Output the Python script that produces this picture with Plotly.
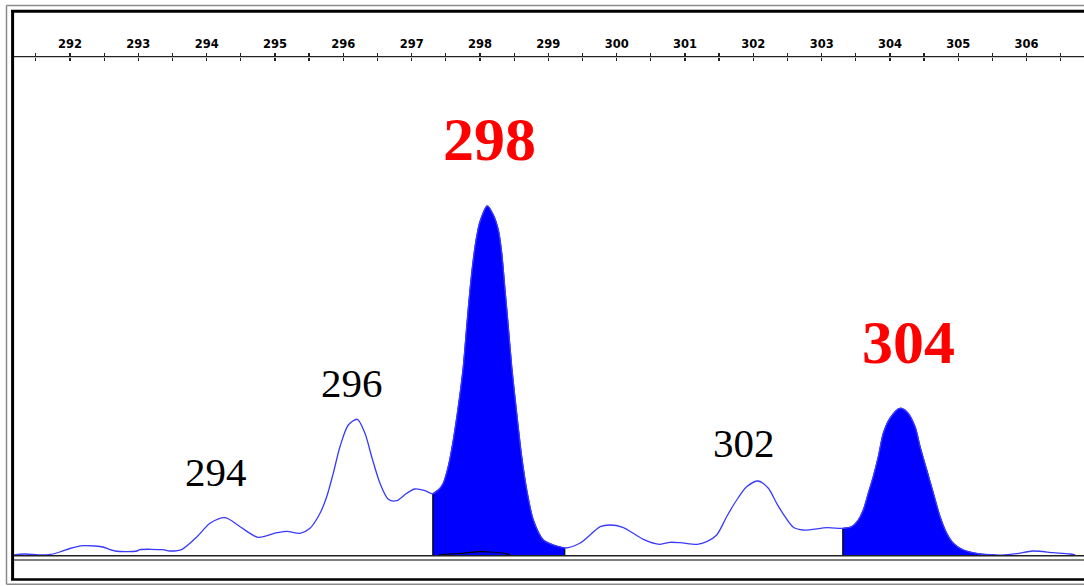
import plotly.graph_objects as go

# ---------------- data ----------------
size_bp = [291.18, 291.34, 291.56, 291.71, 291.85, 292.00, 292.19, 292.37, 292.48, 292.66,
           292.98, 293.02, 293.36, 293.46, 293.64, 293.86, 294.05, 294.27, 294.49, 294.75,
           295.03, 295.18, 295.366, 295.512, 295.659, 295.757, 295.853, 295.951, 296.073, 296.205,
           296.317, 296.415, 296.537, 296.658, 296.781, 296.928, 297.049, 297.195, 297.31, 297.415,
           297.463, 297.536, 297.610, 297.683, 297.756, 297.806, 297.854, 297.902, 297.952, 298.000,
           298.107, 298.195, 298.268, 298.318, 298.366, 298.414, 298.464, 298.537, 298.610, 298.684,
           298.780, 298.927, 299.073, 299.24, 299.46, 299.76, 299.90, 300.09, 300.39, 300.63,
           300.78, 300.93, 301.18, 301.318, 301.464, 301.61, 301.757, 301.903, 302.073, 302.22,
           302.342, 302.464, 302.586, 302.732, 303.08, 303.31, 303.44, 303.537, 303.61, 303.683,
           303.756, 303.83, 303.903, 304.0, 304.147, 304.245, 304.367, 304.44, 304.538, 304.635,
           304.733, 304.83, 304.927, 305.073, 305.317, 305.54, 305.68, 305.86, 306.09, 306.39,
           306.63, 306.71]
rfu = [0, 10, 0, 5, 30, 65, 93, 90, 80, 40,
       40, 53, 53, 40, 57, 183, 317, 373, 283, 177,
       223, 237, 217, 267, 417, 583, 817, 1083, 1300, 1357,
       1217, 983, 717, 557, 543, 617, 660, 643, 612, 667,
       717, 883, 1150, 1483, 1883, 2283, 2650, 2950, 3183, 3333,
       3490, 3400, 3250, 3017, 2650, 2283, 1883, 1417, 983, 650,
       350, 150, 100, 70, 117, 283, 300, 277, 157, 107,
       127, 123, 107, 133, 200, 383, 550, 683, 740, 667,
       517, 383, 277, 250, 273, 267, 283, 350, 450, 617,
       783, 983, 1217, 1367, 1467, 1433, 1283, 1083, 850, 617,
       383, 217, 117, 50, 10, 0, 0, 13, 40, 23,
       10, 0]

# second (black) dye trace close to the baseline
black_bp = [297.40, 297.56, 297.71, 297.85, 298.00, 298.15, 298.37, 298.44]
black_rfu = [0, 10, 15, 25, 33, 30, 15, 0]

# called alleles (filled peaks): bin start / end in bp
called_bins = [(297.31, 299.24), (303.31, 305.54)]

# peak labels
label_text = ["294", "296", "298", "302", "304"]
label_bp = [294.137, 296.127, 298.139, 301.871, 304.264]
label_rfu = [830, 1725, 4160, 1125, 2130]
label_called = [False, False, True, False, True]

tick_labels = ["292", "293", "294", "295", "296", "297", "298", "299",
               "300", "301", "302", "303", "304", "305", "306"]
tick_positions = [292, 293, 294, 295, 296, 297, 298, 299, 300, 301, 302, 303, 304, 305, 306]
minor_positions = [291.5 + i for i in range(16)]

# ---------------- figure ----------------
W, H = 1084, 586
BLUE_LINE = "#3a3aff"
BLUE_FILL = "#0000ff"
SMOOTH = 0.8

fig = go.Figure()

# filled called peaks
for (b0, b1) in called_bins:
    xs = [x for x in size_bp if b0 <= x <= b1]
    ys = [y for x, y in zip(size_bp, rfu) if b0 <= x <= b1]
    fig.add_trace(go.Scatter(x=xs, y=ys, mode="lines", fill="tozeroy",
                             fillcolor=BLUE_FILL,
                             line=dict(color=BLUE_FILL, width=1.2, shape="spline", smoothing=SMOOTH),
                             hoverinfo="skip", showlegend=False))
    # black edge lines of the bin
    for b in (b0, b1):
        yv = [y for x, y in zip(size_bp, rfu) if x == b][0]
        fig.add_trace(go.Scatter(x=[b, b], y=[0, yv], mode="lines",
                                 line=dict(color="black", width=1.2),
                                 hoverinfo="skip", showlegend=False))

# main blue trace
fig.add_trace(go.Scatter(x=size_bp, y=rfu, mode="lines",
                         line=dict(color=BLUE_LINE, width=1.3, shape="spline", smoothing=SMOOTH),
                         hoverinfo="skip", showlegend=False))

# black dye trace
fig.add_trace(go.Scatter(x=black_bp, y=black_rfu, mode="lines",
                         line=dict(color="black", width=1.2, shape="spline", smoothing=0.6),
                         hoverinfo="skip", showlegend=False))

# dummy trace for the second (tick-only) axis
fig.add_trace(go.Scatter(x=[tick_positions[0]], y=[0], xaxis="x2", mode="markers",
                         marker=dict(opacity=0), hoverinfo="skip", showlegend=False))

# peak labels
for t, xb, yv, called in zip(label_text, label_bp, label_rfu, label_called):
    fig.add_annotation(x=xb, y=yv, text=f"<b>{t}</b>" if called else t, showarrow=False,
                       xanchor="center", yanchor="middle",
                       font=dict(family="Liberation Serif, Times New Roman, serif",
                                 size=62 if called else 41,
                                 color="#ff0000" if called else "black"))


def pl(x0, y0, x1, y1, color, width):
    return dict(type="line", xref="paper", yref="paper",
                x0=x0 / W, x1=x1 / W, y0=1 - y0 / H, y1=1 - y1 / H,
                line=dict(color=color, width=width), layer="above")


AXIS_Y = 56.7
shapes = [
    # outer gray frame
    pl(6.5, 5.5, 6.5, 584.2, "#8a8a8a", 1.5),
    pl(6.5, 5.5, 1084, 5.5, "#8a8a8a", 1.5),
    pl(6.5, 584.2, 1084, 584.2, "#8a8a8a", 1.5),
    # inner black frame
    pl(12.6, 11.2, 12.6, 579.5, "black", 3),
    pl(11, 11.2, 1084, 11.2, "black", 3),
    pl(11, 579.5, 1084, 579.5, "black", 2.5),
    # top axis line (inside the frame)
    pl(14, AXIS_Y, 1084, AXIS_Y, "#222222", 1.3),
    # baseline double line
    pl(14, 555.8, 1084, 555.8, "#222222", 1.5),
    pl(14, 560.0, 1084, 560.0, "#555555", 1.5),
]

axis_pos = 1 - AXIS_Y / H
x_range = [290.9756, 306.8397]

fig.update_layout(
    width=W, height=H, autosize=False,
    margin=dict(l=0, r=0, t=0, b=0, pad=0),
    paper_bgcolor="white", plot_bgcolor="white",
    shapes=shapes,
    xaxis=dict(range=x_range, anchor="free", position=axis_pos, side="top",
               showgrid=False, zeroline=False, showline=False,
               tickmode="array", tickvals=tick_positions, ticktext=tick_labels,
               ticks="outside", ticklen=4, tickwidth=1.3, tickcolor="#222222",
               minor=dict(tickmode="array", tickvals=minor_positions, ticks="outside",
                          ticklen=4, tickwidth=1.3, tickcolor="#222222", showgrid=False),
               tickfont=dict(family="DejaVu Sans", size=11.5, color="black", weight="bold"),
               fixedrange=True),
    xaxis2=dict(range=x_range, matches="x", overlaying="x", anchor="free",
                position=axis_pos, side="top",
                showgrid=False, zeroline=False, showline=False, showticklabels=False,
                tickmode="array", tickvals=tick_positions,
                ticks="inside", ticklen=3.5, tickwidth=1.3, tickcolor="#222222",
                minor=dict(tickmode="array", tickvals=minor_positions, ticks="inside",
                           ticklen=3.5, tickwidth=1.3, tickcolor="#222222", showgrid=False),
                fixedrange=True),
    yaxis=dict(range=[-310, 5550], visible=False, showgrid=False, zeroline=False,
               fixedrange=True),
)

fig.write_html("out.html", config=dict(displayModeBar=False, staticPlot=True),
               post_script="document.body.style.margin='0';document.body.style.overflow='hidden';")
